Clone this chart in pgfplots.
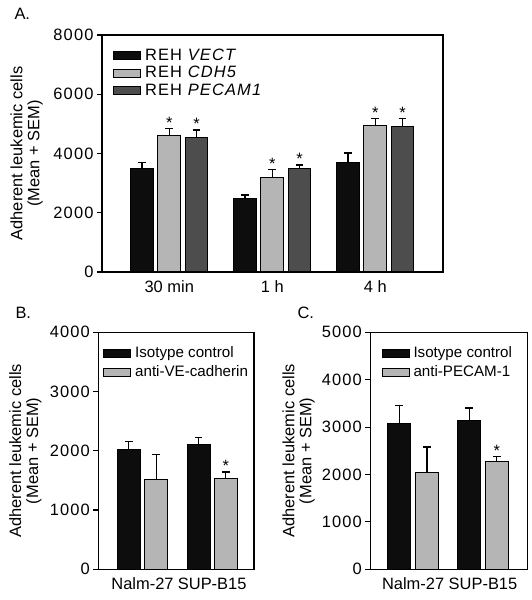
\documentclass[border=0pt]{standalone}
\usepackage{fontspec}
\setmainfont{Liberation Sans}
\newfontfamily\spaced[LetterSpace=7]{Liberation Sans}
\usepackage{pgfplots}
\pgfplotsset{compat=1.18}
\definecolor{cblack}{HTML}{0D0D0D}
\definecolor{clight}{HTML}{B5B5B5}
\definecolor{cdark}{HTML}{4D4D4D}
\newcommand{\fs}{\fontsize{16.5}{17}\selectfont}
\newcommand{\fl}{\fontsize{15.2}{17}\selectfont}
\pgfplotsset{
  panel/.style={
    scale only axis, anchor=south west,
    axis line style={line width=1.2pt},
    ytick pos=left, tick align=outside, major tick length=5bp,
    ytick style={line width=1.2pt, black},
    xtick style={draw=none},
    tick label style={font=\fs},
    yticklabel style={font=\fs\spaced},
    /pgf/number format/assume math mode=true,
    /pgf/number format/1000 sep={},
    ylabel style={font=\fs, align=center, anchor=center},
    legend style={draw=none, fill=none, inner sep=0pt, anchor=north west, font=\fl,
      cells={anchor=west}, nodes={inner sep=0pt, text height=12bp, text depth=3.5bp},
      /tikz/every odd column/.append style={column sep=4bp}},
    legend cell align=left,
  },
  swatch/.style={legend image code/.code={\draw[##1] (0bp,-4bp) rectangle (27bp,4bp);}},
  bars/.style={ybar, bar width=#1, bar shift=0pt, draw=black, line width=1pt,
    error bars/y dir=plus, error bars/y explicit,
    error bars/error mark=|,
    error bars/error bar style={line width=1.3pt, black},
    error bars/error mark options={line width=1.3pt, mark size=3.8bp, black}},
}
\begin{document}
\begin{tikzpicture}
\useasboundingbox (0,0) rectangle (532bp,600bp);
\node[anchor=base west, font=\fs] at (11bp,580bp) {A.};
\node[anchor=base west, font=\fs] at (12bp,281bp) {B.};
\node[anchor=base west, font=\fs] at (294bp,281bp) {C.};
% Panel A
\begin{axis}[panel, at={(102bp,328bp)}, width=341bp, height=237bp,
  xmin=-0.653, xmax=2.658, ymin=0, ymax=8000,
  ytick={0,2000,4000,6000,8000},
  xtick={0,1,2}, xticklabels={30 min,1 h,4 h},
  ylabel={Adherent leukemic cells\\(Mean + SEM)},
  ylabel style={at={(axis description cs:-0.221,0.5)}},
  legend style={at={(axis description cs:0.032,0.945)}, row sep=2bp, font=\fs\spaced},
]
\addplot[bars=0.22, fill=cblack, swatch] coordinates {(-0.265,3500) +- (0,190) (0.735,2490) +- (0,110) (1.735,3690) +- (0,330)};
\addlegendentry{REH \textit{VECT}}
\addplot[bars=0.22, fill=clight, swatch] coordinates {(0,4620) +- (0,230) (1,3200) +- (0,265) (2,4930) +- (0,260)};
\addlegendentry{REH \textit{CDH5}}
\addplot[bars=0.22, fill=cdark, swatch] coordinates {(0.265,4550) +- (0,245) (1.265,3490) +- (0,120) (2.265,4895) +- (0,280)};
\addlegendentry{REH \textit{PECAM1}}
\node[anchor=south, inner sep=0pt, font=\fs] at (axis cs:0,4850) {*};
\node[anchor=south, inner sep=0pt, font=\fs] at (axis cs:0.265,4795) {*};
\node[anchor=south, inner sep=0pt, font=\fs] at (axis cs:1,3465) {*};
\node[anchor=south, inner sep=0pt, font=\fs] at (axis cs:1.265,3610) {*};
\node[anchor=south, inner sep=0pt, font=\fs] at (axis cs:2,5190) {*};
\node[anchor=south, inner sep=0pt, font=\fs] at (axis cs:2.265,5175) {*};
\end{axis}
% Panel B
\begin{axis}[panel, at={(98.3bp,30.7bp)}, width=155.7bp, height=237bp,
  xmin=-0.634, xmax=1.6, ymin=0, ymax=4000,
  ytick={0,1000,2000,3000,4000},
  xtick={0,1}, xticklabels={Nalm-27,SUP-B15},
  ylabel={Adherent leukemic cells\\(Mean + SEM)},
  ylabel style={at={(axis description cs:-0.468,0.5)}},
  legend style={at={(axis description cs:0.03,0.945)}, row sep=3.8bp},
]
\addplot[bars=0.33, fill=cblack, swatch] coordinates {(-0.196,2015) +- (0,140) (0.804,2100) +- (0,125)};
\addlegendentry{Isotype control}
\addplot[bars=0.33, fill=clight, swatch] coordinates {(0.196,1510) +- (0,430) (1.196,1535) +- (0,108)};
\addlegendentry{anti-VE-cadherin}
\node[anchor=south, inner sep=0pt, font=\fs] at (axis cs:1.196,1645) {*};
\end{axis}
% Panel C
\begin{axis}[panel, at={(370.3bp,30.7bp)}, width=157.4bp, height=237bp,
  xmin=-0.613, xmax=1.64, ymin=0, ymax=5000,
  ytick={0,1000,2000,3000,4000,5000},
  xtick={0,1}, xticklabels={Nalm-27,SUP-B15},
  ylabel={Adherent leukemic cells\\(Mean + SEM)},
  ylabel style={at={(axis description cs:-0.456,0.5)}},
  legend style={at={(axis description cs:0.07,0.945)}, row sep=3.8bp},
]
\addplot[bars=0.334, fill=cblack, swatch] coordinates {(-0.198,3080) +- (0,380) (0.802,3135) +- (0,270)};
\addlegendentry{Isotype control}
\addplot[bars=0.334, fill=clight, swatch] coordinates {(0.198,2040) +- (0,540) (1.198,2265) +- (0,112)};
\addlegendentry{anti-PECAM-1}
\node[anchor=south, inner sep=0pt, font=\fs] at (axis cs:1.198,2380) {*};
\end{axis}
\end{tikzpicture}
\end{document}
